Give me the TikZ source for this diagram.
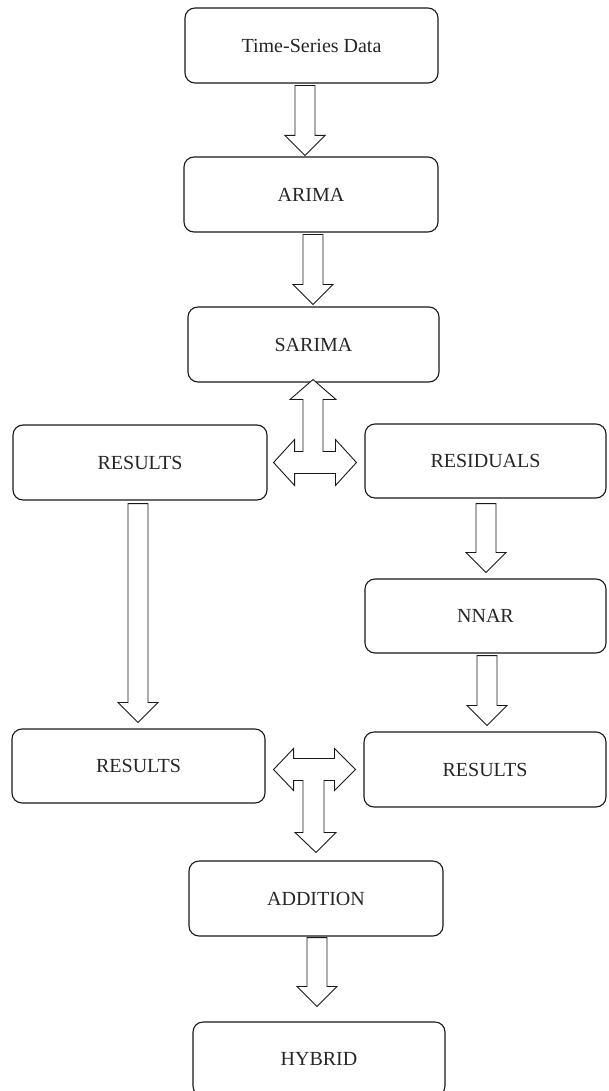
\documentclass[tikz,border=0pt]{standalone}
\usepackage{fontspec}
\setmainfont{Liberation Serif}
\usetikzlibrary{calc}
\tikzset{
  box/.style={draw=black!90, line width=1.1pt, rounded corners=10pt, inner sep=0pt,
    font=\fontsize{20}{24}\selectfont, text=black!85},
  blk/.style={draw=black!90, line width=0.9pt, fill=white, line join=miter}
}
\newcommand{\vblk}[5]{\draw[blk] let \p1=(#1.south), \p2=(#2.north) in
  (#3pt-10pt,\y1-#4pt) -- (#3pt+10pt,\y1-#4pt) -- (#3pt+10pt,\y2+#5pt+20pt) --
  (#3pt+20pt,\y2+#5pt+20pt) -- (#3pt,\y2+#5pt) -- (#3pt-20pt,\y2+#5pt+20pt) --
  (#3pt-10pt,\y2+#5pt+20pt) -- cycle;}
\begin{document}
\begin{tikzpicture}[x=1pt,y=-1pt]
\useasboundingbox (0,0) rectangle (608,1091);
\clip (0,0) rectangle (608,1091);
\node[box, minimum width=253pt, minimum height=75pt] (ts) at (311.5,45.5) {Time-Series Data};
\node[box, minimum width=254pt, minimum height=75pt] (arima) at (311,194.5) {ARIMA};
\node[box, minimum width=251pt, minimum height=75pt] (sarima) at (313.5,344.5) {SARIMA};
\node[box, minimum width=254pt, minimum height=75pt] (res1) at (140,462.5) {RESULTS};
\node[box, minimum width=241pt, minimum height=74pt] (resid) at (485.5,461) {RESIDUALS};
\node[box, minimum width=241pt, minimum height=74pt] (nnar) at (485.5,616) {NNAR};
\node[box, minimum width=253pt, minimum height=74pt] (res2) at (138.5,766) {RESULTS};
\node[box, minimum width=242pt, minimum height=75pt] (res3) at (485,769.5) {RESULTS};
\node[box, minimum width=254pt, minimum height=75pt] (addition) at (316,898.5) {ADDITION};
\node[box, minimum width=252pt, minimum height=74pt] (hybrid) at (319,1059) {HYBRID};

\vblk{ts}{arima}{305}{2}{1}
\vblk{arima}{sarima}{313}{2}{2}
\vblk{res1}{res2}{138}{3}{6}
\vblk{resid}{nnar}{486}{5}{6}
\vblk{nnar}{res3}{487}{2}{6}
\vblk{addition}{hybrid}{317}{1}{15}

% upper T double arrow: SARIMA <-> RESULTS / RESIDUALS
\draw[blk] let \p1=(sarima.south), \p2=(res1.east), \p3=(resid.west), \p4=(res1.center) in
  (313pt,\y1+3pt) -- (336pt,\y4+63pt) -- (323pt,\y4+63pt) -- (323pt,\y4+11pt) --
  (\x3-29pt,\y4+11pt) -- (\x3-29pt,\y4+23pt) -- (\x3-8pt,\y4) -- (\x3-29pt,\y4-23pt) --
  (\x3-29pt,\y4-11pt) -- (\x2+27pt,\y4-11pt) -- (\x2+27pt,\y4-23pt) -- (\x2+6pt,\y4) --
  (\x2+27pt,\y4+23pt) -- (\x2+27pt,\y4+11pt) -- (303pt,\y4+11pt) -- (303pt,\y4+63pt) --
  (290pt,\y4+63pt) -- cycle;

% lower T double arrow: RESULTS / RESULTS -> ADDITION
\draw[blk] let \p1=(res2.east), \p2=(res3.west), \p3=(addition.north), \p4=(res3.center) in
  (\x1+8pt,\y4) -- (\x1+28pt,\y4+21pt) -- (\x1+28pt,\y4+11pt) -- (\x2-29pt,\y4+11pt) --
  (\x2-29pt,\y4+21pt) -- (\x2-8pt,\y4) -- (\x2-29pt,\y4-21pt) -- (\x2-29pt,\y4-11pt) --
  (324pt,\y4-11pt) -- (324pt,\y3+28pt) -- (336pt,\y3+28pt) -- (316pt,\y3+8pt) --
  (295pt,\y3+28pt) -- (303pt,\y3+28pt) -- (303pt,\y4-11pt) -- (\x1+28pt,\y4-11pt) --
  (\x1+28pt,\y4-21pt) -- cycle;
\end{tikzpicture}
\end{document}
